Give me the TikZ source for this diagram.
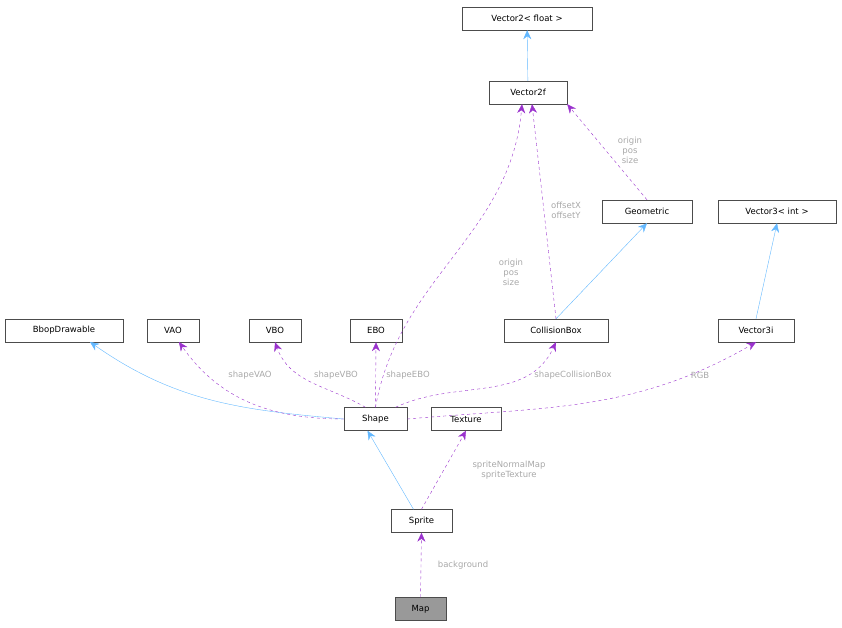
\documentclass[tikz,border=0pt]{standalone}
\usepackage{fontspec}
\setmainfont{DejaVu Sans}
\usetikzlibrary{arrows.meta}
\definecolor{pu}{HTML}{9A32CD}
\definecolor{bl}{HTML}{63B8FF}
\definecolor{lb}{HTML}{A8A8A8}
\begin{document}
\begin{tikzpicture}[x=1pt,y=-1pt,
 box/.style={draw=black!70,fill=white,minimum height=23pt,inner sep=0pt,font=\fontsize{8.5}{10}\selectfont},
 inh/.style={bl,-{Stealth[length=9pt,width=8pt]}},
 use/.style={pu,dashed,-{Stealth[length=9pt,width=8pt]}},
 lab/.style={text=lb,font=\fontsize{8.5}{10}\selectfont,align=center,inner sep=0pt}]
\useasboundingbox (0,0) rectangle (842,628);
\node[box,minimum width=130pt] (v2f) at (527,18.5) {Vector2< float >};
\node[box,minimum width=78pt] (v2) at (528,92.5) {Vector2f};
\node[box,minimum width=90pt] (geo) at (647,211.5) {Geometric};
\node[box,minimum width=118pt] (v3i) at (777,211.5) {Vector3< int >};
\node[box,minimum width=118pt] (bd) at (64,330.5) {BbopDrawable};
\node[box,minimum width=52pt] (vao) at (173,330.5) {VAO};
\node[box,minimum width=52pt] (vbo) at (275,330.5) {VBO};
\node[box,minimum width=52pt] (ebo) at (376,330.5) {EBO};
\node[box,minimum width=104pt] (cb) at (556,330.5) {CollisionBox};
\node[box,minimum width=76pt] (v3) at (756,330.5) {Vector3i};
\node[box,minimum width=63pt] (sh) at (375.5,419) {Shape};
\node[box,minimum width=70pt] (tx) at (466,419) {Texture};
\node[box,minimum width=61pt] (sp) at (421.5,521) {Sprite};
\node[box,minimum width=51pt,fill=black!40] (map) at (420.5,609) {Map};

\draw[inh] (v2) -- (v2f);
\draw[use] (geo.north) -- (v2.south east) ;
\node[lab] at (630,150) {origin\\pos\\size};
\draw[inh] (cb.north) -- (geo.south);
\draw[use] (cb.north) -- ([xshift=4pt]v2.south);
\node[lab] at (566,210) {offsetX\\offsetY};
\draw[inh] (v3.north) -- (v3i.south);
\draw[use] (sh.north) to[out=80,in=-95] ([xshift=-6pt]v2.south);
\node[lab] at (511,272) {origin\\pos\\size};
\draw[inh] (sh.west) to[out=175,in=-35] (90,342);
\draw[use] (sh.west) to[out=180,in=-55] (179,342);
\node[lab] at (250,375) {shapeVAO};
\draw[use] ([xshift=-10pt]sh.north) to[out=150,in=-70] (vbo.south);
\node[lab] at (336,375) {shapeVBO};
\draw[use] (sh.north) -- (ebo.south);
\node[lab] at (408,375) {shapeEBO};
\draw[use] ([xshift=20pt]sh.north) to[out=25,in=-115] (cb.south);
\node[lab] at (573,375) {shapeCollisionBox};
\draw[use] (sh.east) to[out=5,in=-150] (v3.south);
\node[lab] at (700,375) {RGB};
\draw[inh] ([xshift=-8pt]sp.north) -- ([xshift=-8pt]sh.south);
\draw[use] (sp.north) -- (tx.south);
\node[lab] at (509,470) {spriteNormalMap\\spriteTexture};
\draw[use] (map.north) -- (sp.south);
\node[lab] at (463,565) {background};
\end{tikzpicture}
\end{document}
